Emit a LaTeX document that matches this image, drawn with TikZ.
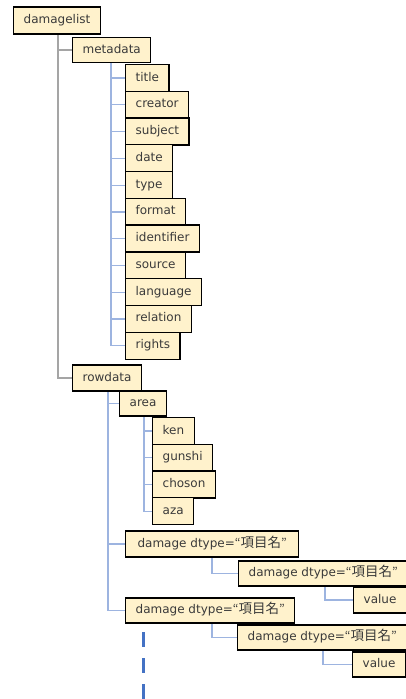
\documentclass[tikz,border=0pt]{standalone}
\usepackage{fontspec}
\setmainfont{DejaVu Sans}
\newfontfamily\jpfont{Noto Sans CJK JP}
\usetikzlibrary{backgrounds}
\definecolor{boxfill}{HTML}{FFF2CC}
\definecolor{boxtext}{HTML}{3A3A3A}
\definecolor{trunkgray}{HTML}{A5A5A5}
\definecolor{branchblue}{HTML}{9DB4E0}
\definecolor{moreblue}{HTML}{4472C4}
\newcommand{\dtype}{damage dtype={\jpfont “{\fontsize{13.5}{14}\selectfont 項目名}”}}
\begin{document}
\begin{tikzpicture}[x=1pt, y=-1pt,
  item/.style={draw=black, line width=1.3pt, fill=boxfill, text=boxtext, anchor=west,
    font=\fontsize{12}{14}\selectfont, inner xsep=10pt, inner ysep=0pt,
    minimum height=27pt, text height=9pt, text depth=3pt},
  trunk/.style={draw=trunkgray, line width=1.5pt},
  branch/.style={draw=branchblue, line width=1.2pt}]
\useasboundingbox (0,0) rectangle (406,699);

% Root and first level
\node[item] (damagelist) at (13,20.5) {damagelist};
\node[item, minimum height=25pt] (metadata) at (72,50) {metadata};
\node[item, minimum height=26pt] (rowdata) at (72,378) {rowdata};

% Metadata fields
\node[item] (title) at (125,78) {title};
\node[item] (creator) at (125,104.8) {creator};
\node[item] (subject) at (125,131.5) {subject};
\node[item] (date) at (125,158.3) {date};
\node[item] (type) at (125,185.1) {type};
\node[item] (format) at (125,211.9) {format};
\node[item] (identifier) at (125,238.6) {identifier};
\node[item] (source) at (125,265.4) {source};
\node[item] (language) at (125,292.2) {language};
\node[item] (relation) at (125,318.9) {relation};
\node[item] (rights) at (125,345.7) {rights};

% Row data
\node[item, minimum height=25pt] (area) at (119,403.5) {area};
\node[item] (ken) at (152,431) {ken};
\node[item] (gunshi) at (152,457.7) {gunshi};
\node[item] (choson) at (152,484.4) {choson};
\node[item] (aza) at (152,511.1) {aza};
\node[item, minimum height=26pt, minimum width=173pt] (damageA) at (125,544) {\dtype\hfill};
\node[item, minimum height=25pt] (subA) at (238,573.5) {\dtype\hspace{12pt}};
\node[item, minimum height=26pt] (valueA) at (353,600) {value};
\node[item, minimum height=25pt] (damageB) at (125,610.5) {\dtype\hspace{3pt}};
\node[item, minimum height=25pt] (subB) at (237,637.5) {\dtype\hspace{12pt}};
\node[item, minimum height=25pt] (valueB) at (352,664.5) {value};

% Connectors
\begin{scope}[on background layer]
\draw[trunk] (damagelist.south west) ++(45,0) |- (metadata.west);
\draw[trunk] (damagelist.south west) ++(45,0) |- (rowdata.west);
\draw[branch] (metadata.south west) ++(39,0) |- (title.west);
\draw[branch] (metadata.south west) ++(39,0) |- (creator.west);
\draw[branch] (metadata.south west) ++(39,0) |- (subject.west);
\draw[branch] (metadata.south west) ++(39,0) |- (date.west);
\draw[branch] (metadata.south west) ++(39,0) |- (type.west);
\draw[branch] (metadata.south west) ++(39,0) |- (format.west);
\draw[branch] (metadata.south west) ++(39,0) |- (identifier.west);
\draw[branch] (metadata.south west) ++(39,0) |- (source.west);
\draw[branch] (metadata.south west) ++(39,0) |- (language.west);
\draw[branch] (metadata.south west) ++(39,0) |- (relation.west);
\draw[branch] (metadata.south west) ++(39,0) |- (rights.west);
\draw[branch] (rowdata.south west) ++(36,0) |- (area.west);
\draw[branch] (rowdata.south west) ++(36,0) |- (damageA.west);
\draw[branch] (rowdata.south west) ++(36,0) |- (damageB.west);
\draw[branch] (area.south west) ++(25,0) |- (ken.west);
\draw[branch] (area.south west) ++(25,0) |- (gunshi.west);
\draw[branch] (area.south west) ++(25,0) |- (choson.west);
\draw[branch] (area.south west) ++(25,0) |- (aza.west);
\draw[branch] (damageA.south west) ++(87,0) |- (subA.west);
\draw[branch] (subA.south west) ++(87,0) |- (valueA.west);
\draw[branch] (damageB.south west) ++(87,0) |- (subB.west);
\draw[branch] (subB.south west) ++(86,0) |- (valueB.west);
\end{scope}

% More entries follow
\coordinate (more) at (143,632);
\draw[moreblue, line width=3pt, dash pattern=on 15pt off 11pt] (more) -- (143,699);
\end{tikzpicture}
\end{document}
